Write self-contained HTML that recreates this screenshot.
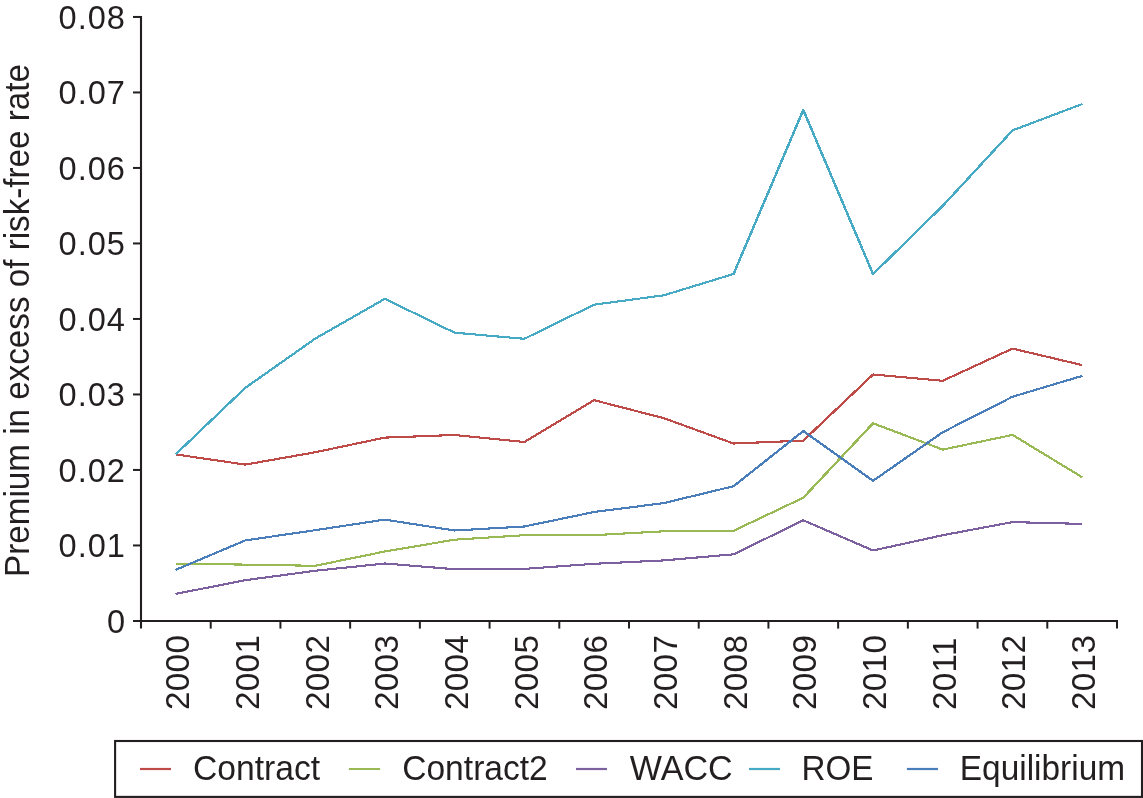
<!DOCTYPE html>
<html lang="en">
<head>
<meta charset="utf-8">
<title>Premium in excess of risk-free rate</title>
<style>
html,body{margin:0;padding:0;background:#fff;}
body{width:1143px;height:798px;overflow:hidden;}
svg{display:block;}
text{font-family:"Liberation Sans",sans-serif;fill:#231f20;}
.ax{stroke:#231f20;fill:none;}
.ln{shape-rendering:crispEdges;fill:none;stroke-width:2.1;stroke-linejoin:round;stroke-linecap:butt;}
</style>
</head>
<body>
<svg width="1143" height="798" viewBox="0 0 1143 798">
<rect width="1143" height="798" fill="#ffffff"/>
<line class="ax" x1="141.0" y1="15.95" x2="141.0" y2="628.6" stroke-width="2.1"/>
<line class="ax" x1="133" y1="620.95" x2="1118.00" y2="620.95" stroke-width="2.1"/>
<text x="126.0" y="632.95" text-anchor="end" font-size="32.6" letter-spacing="1">0</text>
<line class="ax" x1="133" y1="545.45" x2="141.0" y2="545.45" stroke-width="2"/>
<text x="126.0" y="557.45" text-anchor="end" font-size="32.6" letter-spacing="1">0.01</text>
<line class="ax" x1="133" y1="469.95" x2="141.0" y2="469.95" stroke-width="2"/>
<text x="126.0" y="481.95" text-anchor="end" font-size="32.6" letter-spacing="1">0.02</text>
<line class="ax" x1="133" y1="394.45" x2="141.0" y2="394.45" stroke-width="2"/>
<text x="126.0" y="406.45" text-anchor="end" font-size="32.6" letter-spacing="1">0.03</text>
<line class="ax" x1="133" y1="318.95" x2="141.0" y2="318.95" stroke-width="2"/>
<text x="126.0" y="330.95" text-anchor="end" font-size="32.6" letter-spacing="1">0.04</text>
<line class="ax" x1="133" y1="243.45" x2="141.0" y2="243.45" stroke-width="2"/>
<text x="126.0" y="255.45" text-anchor="end" font-size="32.6" letter-spacing="1">0.05</text>
<line class="ax" x1="133" y1="167.95" x2="141.0" y2="167.95" stroke-width="2"/>
<text x="126.0" y="179.95" text-anchor="end" font-size="32.6" letter-spacing="1">0.06</text>
<line class="ax" x1="133" y1="92.45" x2="141.0" y2="92.45" stroke-width="2"/>
<text x="126.0" y="104.45" text-anchor="end" font-size="32.6" letter-spacing="1">0.07</text>
<line class="ax" x1="133" y1="16.95" x2="141.0" y2="16.95" stroke-width="2"/>
<text x="126.0" y="28.95" text-anchor="end" font-size="32.6" letter-spacing="1">0.08</text>
<line class="ax" x1="210.71" y1="620.95" x2="210.71" y2="628.6" stroke-width="2"/>
<line class="ax" x1="280.43" y1="620.95" x2="280.43" y2="628.6" stroke-width="2"/>
<line class="ax" x1="350.14" y1="620.95" x2="350.14" y2="628.6" stroke-width="2"/>
<line class="ax" x1="419.86" y1="620.95" x2="419.86" y2="628.6" stroke-width="2"/>
<line class="ax" x1="489.57" y1="620.95" x2="489.57" y2="628.6" stroke-width="2"/>
<line class="ax" x1="559.29" y1="620.95" x2="559.29" y2="628.6" stroke-width="2"/>
<line class="ax" x1="629.00" y1="620.95" x2="629.00" y2="628.6" stroke-width="2"/>
<line class="ax" x1="698.71" y1="620.95" x2="698.71" y2="628.6" stroke-width="2"/>
<line class="ax" x1="768.43" y1="620.95" x2="768.43" y2="628.6" stroke-width="2"/>
<line class="ax" x1="838.14" y1="620.95" x2="838.14" y2="628.6" stroke-width="2"/>
<line class="ax" x1="907.86" y1="620.95" x2="907.86" y2="628.6" stroke-width="2"/>
<line class="ax" x1="977.57" y1="620.95" x2="977.57" y2="628.6" stroke-width="2"/>
<line class="ax" x1="1047.29" y1="620.95" x2="1047.29" y2="628.6" stroke-width="2"/>
<line class="ax" x1="1117.00" y1="620.95" x2="1117.00" y2="628.6" stroke-width="2"/>
<text transform="translate(189.20,710.1) rotate(-90)" font-size="33.2" letter-spacing="0.4">2000</text>
<text transform="translate(258.87,710.1) rotate(-90)" font-size="33.2" letter-spacing="0.4">2001</text>
<text transform="translate(328.54,710.1) rotate(-90)" font-size="33.2" letter-spacing="0.4">2002</text>
<text transform="translate(398.21,710.1) rotate(-90)" font-size="33.2" letter-spacing="0.4">2003</text>
<text transform="translate(467.88,710.1) rotate(-90)" font-size="33.2" letter-spacing="0.4">2004</text>
<text transform="translate(537.55,710.1) rotate(-90)" font-size="33.2" letter-spacing="0.4">2005</text>
<text transform="translate(607.22,710.1) rotate(-90)" font-size="33.2" letter-spacing="0.4">2006</text>
<text transform="translate(676.89,710.1) rotate(-90)" font-size="33.2" letter-spacing="0.4">2007</text>
<text transform="translate(746.56,710.1) rotate(-90)" font-size="33.2" letter-spacing="0.4">2008</text>
<text transform="translate(816.23,710.1) rotate(-90)" font-size="33.2" letter-spacing="0.4">2009</text>
<text transform="translate(885.90,710.1) rotate(-90)" font-size="33.2" letter-spacing="0.4">2010</text>
<text transform="translate(955.57,710.1) rotate(-90)" font-size="33.2" letter-spacing="0.4">2011</text>
<text transform="translate(1025.24,710.1) rotate(-90)" font-size="33.2" letter-spacing="0.4">2012</text>
<text transform="translate(1094.91,710.1) rotate(-90)" font-size="33.2" letter-spacing="0.4">2013</text>
<text transform="translate(29.2,576.9) rotate(-90) scale(1.0065,1.05)" font-size="33">Premium in excess of risk-free rate</text>
<polyline class="ln" transform="scale(1.2,1)" stroke="#be4b48" points="146.33,454.4 204.45,464.6 262.58,452.3 320.70,437.6 378.82,435.0 436.94,442.0 495.06,400.2 553.18,418.2 611.30,443.5 669.42,440.6 727.54,374.5 785.66,380.8 843.78,348.6 901.90,365.1"/>
<polyline class="ln" transform="scale(1.2,1)" stroke="#98b954" points="146.33,563.7 204.45,564.6 262.58,565.8 320.70,551.5 378.82,539.7 436.94,535.2 495.06,535.2 553.18,531.3 611.30,530.8 669.42,497.7 727.54,423.3 785.66,449.6 843.78,434.9 901.90,477.3"/>
<polyline class="ln" transform="scale(1.2,1)" stroke="#7d60a0" points="146.33,593.9 204.45,580.2 262.58,570.8 320.70,563.5 378.82,569.2 436.94,568.9 495.06,563.8 553.18,560.4 611.30,554.3 669.42,520.3 727.54,550.5 785.66,535.2 843.78,522.1 901.90,523.9"/>
<polyline class="ln" transform="scale(1.2,1)" stroke="#46aac5" points="146.33,454.4 204.45,387.8 262.58,338.7 320.70,298.8 378.82,332.7 436.94,338.8 495.06,304.7 553.18,295.3 611.30,274.0 669.42,109.9 727.54,274.1 785.66,205.8 843.78,130.4 901.90,104.0"/>
<polyline class="ln" transform="scale(1.2,1)" stroke="#4a7ebb" points="146.33,569.9 204.45,540.4 262.58,530.2 320.70,519.6 378.82,530.5 436.94,526.5 495.06,512.0 553.18,503.1 611.30,486.2 669.42,431.0 727.54,480.8 785.66,432.2 843.78,396.7 901.90,375.9"/>
<rect class="ax" x="115.1" y="741" width="1026.9" height="55.9" stroke-width="2.1"/>
<line x1="140" y1="769" x2="171" y2="769" stroke="#be4b48" stroke-width="2.2"/>
<text transform="translate(193.0,779.7) scale(1.02,1.05)" font-size="33">Contract</text>
<line x1="348.9" y1="769" x2="380.1" y2="769" stroke="#98b954" stroke-width="2.2"/>
<text transform="translate(402.2,779.7) scale(1.018,1.05)" font-size="33">Contract2</text>
<line x1="576" y1="769" x2="607" y2="769" stroke="#7d60a0" stroke-width="2.2"/>
<text transform="translate(629.8,779.7) scale(1.033,1.05)" font-size="33">WACC</text>
<line x1="749" y1="769" x2="780" y2="769" stroke="#46aac5" stroke-width="2.2"/>
<text transform="translate(801.4,779.7) scale(1.007,1.05)" font-size="33">ROE</text>
<line x1="906.9" y1="769" x2="938" y2="769" stroke="#4a7ebb" stroke-width="2.2"/>
<text transform="translate(959.8,779.7) scale(1.013,1.05)" font-size="33">Equilibrium</text>
</svg>
</body>
</html>
